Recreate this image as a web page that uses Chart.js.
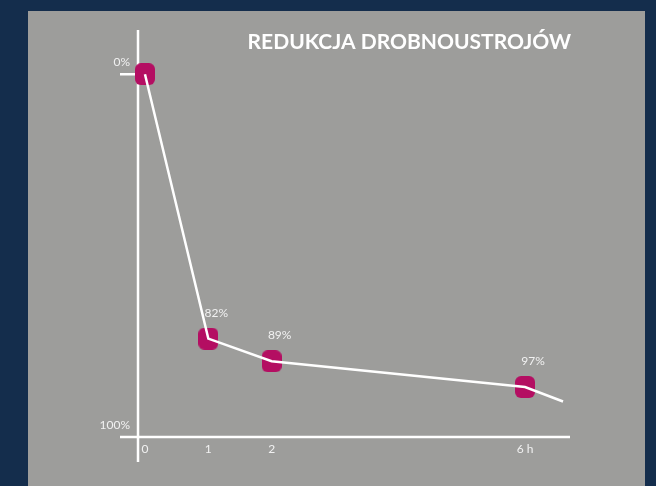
<!DOCTYPE html>
<html>
<head>
<meta charset="utf-8">
<script src="https://cdn.jsdelivr.net/npm/chart.js@4"></script>
<style>
  html, body { margin: 0; padding: 0; background: #142d4c; width: 656px; height: 486px; overflow: hidden; }
  .panel { position: absolute; left: 28px; top: 11px; width: 617px; height: 475px; background: #9d9d9b; }
  canvas { position: absolute; left: 0; top: 0; }
</style>
</head>
<body>
<div class="panel"></div>
<canvas id="chart" width="656" height="486"></canvas>
<script>
const TITLE = "REDUKCJA DROBNOUSTROJÓW";
const hours = [0, 1, 2, 6];
const reduction = [0, 82, 89, 97];
const pointLabels = ["", "82%", "89%", "97%"];
const xTicks = [0, 1, 2, 6];
const xTickLabels = ["0", "1", "2", "6 h"];
const yEndLabels = ["0%", "100%"];
// the white line runs on a little past the last marker
const lineEnd = { x: 6.6, y: 101.5 };

const WHITE = "#ffffff";
const TEXT = "#f1f1f1";
const MARKER = "#b40e62";

// rounded, slightly tall marker
function makeMarker() {
  const c = document.createElement("canvas");
  c.width = 20; c.height = 22;
  const g = c.getContext("2d");
  g.fillStyle = MARKER;
  g.beginPath();
  g.roundRect(0, 0, 20, 22, 6);
  g.fill();
  return c;
}

const points = hours.map((h, i) => ({ x: h, y: reduction[i] }));

const decor = {
  id: "decor",
  beforeDatasetsDraw(chart) {
    const { ctx, chartArea: a, scales: { x, y } } = chart;
    ctx.save();
    ctx.strokeStyle = WHITE;
    ctx.lineWidth = 2.5;
    ctx.beginPath();
    // y axis, running a bit below the x axis
    ctx.moveTo(a.left, a.top);
    ctx.lineTo(a.left, a.bottom + 25);
    // x axis, starting a bit left of the y axis
    ctx.moveTo(a.left - 18, a.bottom);
    ctx.lineTo(a.right, a.bottom);
    // short guide at 0%
    const y0 = y.getPixelForValue(0);
    ctx.moveTo(a.left - 18, y0);
    ctx.lineTo(x.getPixelForValue(0), y0);
    ctx.stroke();

    ctx.fillStyle = TEXT;
    ctx.font = "12px Lato";
    ctx.textAlign = "right";
    ctx.textBaseline = "middle";
    ctx.fillText(yEndLabels[0], a.left - 8, y0 - 12);
    ctx.fillText(yEndLabels[1], a.left - 8, a.bottom - 12);

    ctx.textAlign = "center";
    xTicks.forEach((t, i) => {
      ctx.fillText(xTickLabels[i], x.getPixelForValue(t), a.bottom + 12);
    });

    ctx.font = "bold 21px Lato";
    ctx.fillStyle = WHITE;
    ctx.textAlign = "right";
    ctx.textBaseline = "alphabetic";
    ctx.fillText(TITLE, 571, 49);
    ctx.restore();
  },
  afterDatasetsDraw(chart) {
    const { ctx } = chart;
    const meta = chart.getDatasetMeta(1);
    ctx.save();
    ctx.fillStyle = TEXT;
    ctx.font = "12px Lato";
    ctx.textAlign = "center";
    ctx.textBaseline = "middle";
    meta.data.forEach((el, i) => {
      if (pointLabels[i]) ctx.fillText(pointLabels[i], el.x + 8, el.y - 26);
    });
    ctx.restore();
  }
};

new Chart(document.getElementById("chart"), {
  type: "scatter",
  data: {
    datasets: [
      {
        // line first so it is painted over the markers
        data: points.concat([lineEnd]),
        showLine: true,
        borderColor: WHITE,
        borderWidth: 2.5,
        pointRadius: 0,
        tension: 0,
        clip: false
      },
      {
        data: points,
        showLine: false,
        pointStyle: makeMarker(),
        pointRadius: 10,
        pointHoverRadius: 10,
        clip: false
      }
    ]
  },
  options: {
    responsive: false,
    animation: false,
    layout: { padding: { left: 138, right: 86, top: 30, bottom: 49 } },
    plugins: { legend: { display: false }, tooltip: { enabled: false } },
    scales: {
      x: { type: "linear", min: -0.11, max: 6.71, display: false },
      y: { type: "linear", min: -13.7, max: 112.5, reverse: true, display: false }
    }
  },
  plugins: [decor]
});
</script>
</body>
</html>
